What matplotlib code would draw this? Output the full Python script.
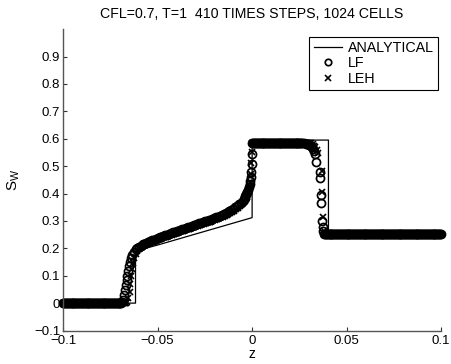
import matplotlib
matplotlib.use('Agg')
import matplotlib.pyplot as plt
import numpy as np

plt.rcParams['font.family'] = ['Liberation Sans', 'DejaVu Sans']
plt.rcParams['font.size'] = 9.5

# analytical solution (z, Sw)
ana_z = [-0.1, -0.0617, -0.0617, -0.05, -0.04, -0.03, -0.02, -0.01, 0.0, 0.0, 0.0404, 0.0404, 0.1]
ana_s = [0.0, 0.0, 0.19, 0.212, 0.232, 0.252, 0.272, 0.292, 0.312, 0.595, 0.595, 0.25, 0.25]

# plateau levels: (z start, z end, Sw)
lf_flat = [(-0.1, -0.0692, 0.0), (0.0, 0.0265, 0.585), (0.0385, 0.1, 0.252)]
leh_flat = [(-0.1, -0.0665, 0.0), (0.0, 0.0305, 0.585), (0.0388, 0.1, 0.252)]

# LF scheme, points off the plateaus
lf_z = [-0.0688, -0.0682, -0.0676, -0.0672, -0.0668, -0.0664, -0.066, -0.0656, -0.0652,
        -0.0647, -0.0642, -0.0635, -0.0627, -0.0617, -0.061,
        -0.060, -0.059, -0.058, -0.057, -0.056, -0.055, -0.054, -0.053, -0.052, -0.051,
        -0.050, -0.049, -0.048, -0.047, -0.046, -0.045, -0.044, -0.043, -0.042, -0.041,
        -0.040, -0.039, -0.038, -0.037, -0.036, -0.035, -0.034, -0.033, -0.032, -0.031,
        -0.030, -0.029, -0.028, -0.027, -0.026, -0.025, -0.024, -0.023, -0.022, -0.021,
        -0.020, -0.019, -0.018, -0.017, -0.016, -0.015, -0.014, -0.013, -0.012, -0.011,
        -0.010, -0.009, -0.008, -0.007, -0.006, -0.005, -0.0045, -0.004, -0.0035, -0.003,
        -0.0025, -0.002, -0.0016, -0.0012,
        -0.0009, -0.0007, -0.0005, -0.0003, -0.0001,
        0.0275, 0.0285, 0.0295, 0.0303, 0.031, 0.0317, 0.0323, 0.0329, 0.0335, 0.0338,
        0.0358, 0.0361, 0.0364, 0.0366, 0.0372, 0.0374, 0.0377, 0.038]
lf_s = [0.003, 0.012, 0.03, 0.047, 0.065, 0.085, 0.1, 0.118, 0.135,
        0.15, 0.163, 0.176, 0.187, 0.196, 0.201,
        0.206, 0.210, 0.214, 0.217, 0.220, 0.224, 0.226, 0.229, 0.232, 0.235,
        0.237, 0.240, 0.243, 0.245, 0.248, 0.250, 0.253, 0.255, 0.258, 0.260,
        0.262, 0.265, 0.267, 0.270, 0.272, 0.274, 0.277, 0.279, 0.281, 0.284,
        0.286, 0.288, 0.291, 0.293, 0.295, 0.298, 0.300, 0.303, 0.305, 0.308,
        0.310, 0.313, 0.316, 0.319, 0.322, 0.325, 0.328, 0.332, 0.336, 0.340,
        0.344, 0.349, 0.354, 0.360, 0.366, 0.374, 0.379, 0.384, 0.390, 0.397,
        0.404, 0.412, 0.423, 0.436,
        0.447, 0.459, 0.477, 0.508, 0.545,
        0.584, 0.582, 0.58, 0.577, 0.573, 0.568, 0.562, 0.555, 0.545, 0.514,
        0.477, 0.455, 0.393, 0.364, 0.30, 0.277, 0.262, 0.254]

# LEH scheme, points off the plateaus
leh_z = [-0.0662, -0.0655, -0.0648, -0.0644, -0.064, -0.0635, -0.063, -0.0624, -0.0617,
         -0.0608, -0.0600,
         -0.0595, -0.0585, -0.0575, -0.0565, -0.0555, -0.0545, -0.0535, -0.0525, -0.0515,
         -0.0505, -0.0495, -0.0485, -0.0475, -0.0465, -0.0455, -0.0445, -0.0435, -0.0425,
         -0.0415, -0.0405, -0.0395, -0.0385, -0.0375, -0.0365, -0.0355, -0.0345, -0.0335,
         -0.0325, -0.0315, -0.0305, -0.0295, -0.0285, -0.0275, -0.0265, -0.0255, -0.0245,
         -0.0235, -0.0225, -0.0215, -0.0205, -0.0195, -0.0185, -0.0175, -0.0165, -0.0155,
         -0.0145, -0.0135, -0.0125, -0.0115, -0.0105, -0.0095, -0.0085, -0.0075, -0.0065,
         -0.0055, -0.0047, -0.004, -0.0034, -0.0028, -0.0023, -0.0019, -0.0016, -0.0013,
         -0.001, -0.0007, -0.0004, -0.0002,
         0.031, 0.032, 0.0328, 0.0335, 0.0342, 0.0348, 0.0368, 0.037, 0.0376, 0.038]
leh_s = [0.005, 0.018, 0.04, 0.07, 0.1, 0.125, 0.145, 0.165, 0.18,
         0.192, 0.198,
         0.202, 0.206, 0.210, 0.213, 0.216, 0.219, 0.222, 0.225, 0.227,
         0.230, 0.233, 0.235, 0.238, 0.240, 0.243, 0.245, 0.248, 0.250,
         0.252, 0.255, 0.257, 0.260, 0.262, 0.264, 0.267, 0.269, 0.271,
         0.274, 0.276, 0.278, 0.281, 0.283, 0.285, 0.288, 0.290, 0.292,
         0.295, 0.297, 0.300, 0.302, 0.305, 0.307, 0.310, 0.313, 0.316,
         0.319, 0.322, 0.325, 0.329, 0.333, 0.337, 0.342, 0.347, 0.353,
         0.360, 0.367, 0.374, 0.381, 0.389, 0.397, 0.405, 0.415, 0.427,
         0.44, 0.47, 0.51, 0.55,
         0.583, 0.58, 0.575, 0.568, 0.558, 0.548, 0.484, 0.405, 0.314, 0.262]


def build(flat, tz, ts):
    # plateaus drawn at roughly the density of the cells in the picture
    zz, ss = list(tz), list(ts)
    for z0, z1, lev in flat:
        n = int(round((z1 - z0) / 0.0005)) + 1
        zz += list(np.linspace(z0, z1, n))
        ss += [lev] * n
    order = np.argsort(zz)
    return np.array(zz)[order], np.array(ss)[order]


lf_zz, lf_ss = build(lf_flat, lf_z, lf_s)
leh_zz, leh_ss = build(leh_flat, leh_z, leh_s)

fig = plt.figure(figsize=(4.51, 3.64), dpi=100)
ax = fig.add_axes([0.14, 0.092, 0.838, 0.828])

ax.plot(ana_z, ana_s, color='black', linewidth=0.9, label='ANALYTICAL')
ax.plot(lf_zz, lf_ss, linestyle='none', marker='o', markersize=5.8, markerfacecolor='none',
        markeredgecolor='black', markeredgewidth=1.25, label='LF', clip_on=False)
ax.plot(leh_zz, leh_ss, linestyle='none', marker='x', markersize=5,
        markeredgecolor='black', markeredgewidth=1.2, label='LEH', clip_on=False)

ax.set_xlim(-0.1, 0.1)
ax.set_ylim(-0.1, 1.0)
ax.set_xticks([-0.1, -0.05, 0, 0.05, 0.1])
ax.set_xticklabels(['\u22120.1', '\u22120.05', '0', '0.05', '0.1'])
ax.set_yticks(np.arange(-0.1, 0.95, 0.1))
ax.set_yticklabels(['\u22120.1', '0', '0.1', '0.2', '0.3', '0.4', '0.5', '0.6', '0.7', '0.8', '0.9'])

for s in ['top', 'right']:
    ax.spines[s].set_visible(False)
for s in ['left', 'bottom']:
    ax.spines[s].set_color('#555555')
    ax.spines[s].set_linewidth(1.0)
ax.tick_params(direction='in', length=3, width=0.8, color='#333333', labelsize=9.5, pad=2)
ax.tick_params(axis='x', pad=3.5)

ax.set_title('CFL=0.7, T=1  410 TIMES STEPS, 1024 CELLS', fontsize=10.2, pad=8)
ax.set_xlabel('z', fontsize=10, labelpad=0)
ax.set_ylabel(r'$\mathregular{S_W}$', fontsize=11, labelpad=9)

leg = ax.legend(loc='upper right', bbox_to_anchor=(1.0, 0.985), fancybox=False, framealpha=1,
                edgecolor='black', fontsize=10.3, borderpad=0.3, labelspacing=0.1,
                handlelength=2.0, handletextpad=0.4, borderaxespad=0.2, markerscale=0.8)
leg.get_frame().set_linewidth(0.8)

fig.savefig('out.png', dpi=100)
